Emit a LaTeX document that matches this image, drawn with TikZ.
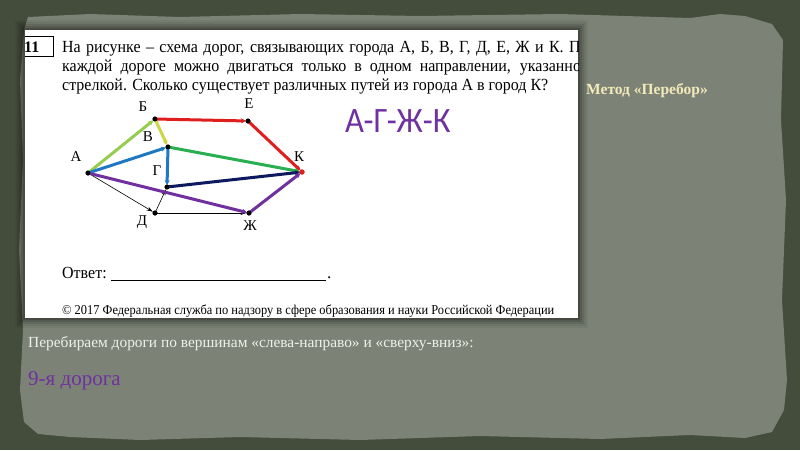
\documentclass[tikz,border=0pt]{standalone}
\usepackage{fontspec}
\setmainfont{Liberation Serif}
\newfontfamily\calib{Carlito}
\usetikzlibrary{arrows.meta}
\definecolor{outerbg}{RGB}{68,76,60}
\definecolor{paper}{RGB}{124,131,118}
\definecolor{lgreen}{RGB}{150,205,80}
\definecolor{ygreen}{RGB}{205,215,70}
\definecolor{rred}{RGB}{225,30,30}
\definecolor{bblue}{RGB}{30,120,195}
\definecolor{ggreen}{RGB}{40,175,80}
\definecolor{navy}{RGB}{15,25,95}
\definecolor{ppurple}{RGB}{112,48,160}
\definecolor{titley}{RGB}{242,234,185}
\definecolor{lighttext}{RGB}{240,240,235}
\tikzset{
  city/.style={circle,fill=black,inner sep=0pt,minimum size=5pt},
  clabel/.style={font=\fontsize{15}{15}\selectfont},
  road/.style={line width=3pt,line cap=round,-{Stealth[length=5pt,width=5pt]},shorten >=2pt},
  thinroad/.style={line width=0.6pt,-{Stealth[length=6pt,width=4pt]}},
  qline/.style={anchor=base west,inner sep=0pt,font=\fontsize{17}{20}\selectfont},
}
\begin{document}
\begin{tikzpicture}[x=1pt,y=-1pt]
\useasboundingbox (0,0) rectangle (800,450);
\fill[outerbg] (0,0) rectangle (800,450);
% torn paper
\fill[paper] (28,17) -- (90,14) -- (180,17) -- (300,14) -- (420,16) -- (560,14) -- (690,18) -- (720,14) -- (745,16) -- (772,24) -- (783,40) -- (781,120) -- (786,200) -- (782,300) -- (787,380) -- (784,410) -- (772,432) -- (745,438) -- (690,435) -- (600,439) -- (480,436) -- (360,440) -- (240,437) -- (140,440) -- (70,437) -- (38,434) -- (24,422) -- (20,390) -- (23,330) -- (19,250) -- (23,160) -- (20,80) -- (24,30) -- cycle;
% shadow of white panel
\foreach \d/\o in {10/0.05,8/0.07,6/0.09,4/0.12,2/0.18}{
  \fill[black,opacity=\o] (25-\d,30-\d) rectangle (578+\d,318+\d);
}
\fill[white] (25,30) rectangle (578,318);
\begin{scope}
\clip (25,30) rectangle (578,318);
\draw[line width=1pt] (14,36) rectangle (53,56);
\node[anchor=base west,inner sep=0pt,font=\fontsize{16}{18}\selectfont\bfseries] (num) at (24,52) {11};
\node[qline] (q1) at (62,52) {\scalebox{0.94}[1]{\makebox[560pt][s]{На рисунке – схема дорог, связывающих города А, Б, В, Г, Д, Е, Ж и К. По}}};
\node[qline] (q2) at (62,71) {\scalebox{0.94}[1]{\makebox[561pt][s]{каждой дороге можно двигаться только в одном направлении, указанной}}};
\node[qline] (q3) at (62,90) {\scalebox{0.94}[1]{стрелкой. Сколько существует различных путей из города А в город К?}};
\end{scope}
% graph
\node[city] (A) at (88,173) {};
\node[city] (B) at (155,119) {};
\node[city] (E) at (248,121) {};
\node[city] (V) at (168,147) {};
\node[city,fill=rred] (K) at (302,172) {};
\node[city] (G) at (167,187) {};
\node[city] (D) at (155,213) {};
\node[city] (Zh) at (249,213) {};
\node[clabel] (lA) at (76,157) {А};
\node[clabel] (lB) at (143,107) {Б};
\node[clabel] (lE) at (249,104) {Е};
\node[clabel] (lV) at (148,137) {В};
\node[clabel] (lK) at (299,157) {К};
\node[clabel] (lG) at (157,171) {Г};
\node[clabel] (lD) at (142,222) {Д};
\node[clabel] (lZh) at (250,226) {Ж};
\draw[thinroad] (A.center) -- (D);
\draw[thinroad] (D.center) -- (G);
\draw[thinroad] (D.center) -- (Zh);
\draw[road,lgreen] (A.center) -- (B.center);
\draw[road,ygreen] (B.center) -- (V.center);
\draw[road,rred] (B.center) -- (E.center);
\draw[road,rred] (E.center) -- (K.center);
\draw[road,bblue] (A.center) -- (V.center);
\draw[road,ggreen] (V.center) -- (K.center);
\draw[road,bblue] (V.center) -- (G.center);
\draw[road,navy] (G.center) -- (K.center);
\draw[road,ppurple] (A.center) -- (Zh.center);
\draw[road,ppurple] (Zh.center) -- (K.center);
\foreach \n in {A,B,E,V,G,D,Zh}{\fill[black] (\n) circle (2.4pt);}
\fill[rred] (K) circle (2.6pt);
% answer line
\node[anchor=base west,inner sep=0pt,font=\fontsize{17}{20}\selectfont] (ans) at (62,278) {\scalebox{0.94}[1]{Ответ:}};
\coordinate (u1) at (111,280);
\coordinate (u2) at (326,280);
\draw[line width=0.9pt] (u1) -- (u2);
\node[anchor=base west,inner sep=0pt,font=\fontsize{17}{20}\selectfont] (dot) at (327,278) {.};
\node[anchor=base west,inner sep=0pt,font=\fontsize{13.5}{15}\selectfont] (copy) at (62,314) {\scalebox{0.92}[1]{© 2017 Федеральная служба по надзору в сфере образования и науки Российской Федерации}};
% right side texts
\node[anchor=base west,inner sep=0pt,font=\calib\fontsize{34}{34}\selectfont,text=ppurple] (path) at (345,132) {\scalebox{0.96}[1.05]{А-Г-Ж-К}};
\node[anchor=base west,inner sep=0pt,font=\fontsize{15.5}{17}\selectfont\bfseries,text=titley] (title) at (586,94) {Метод «Перебор»};
\node[anchor=base west,inner sep=0pt,font=\fontsize{15.4}{17}\selectfont,text=lighttext] (sub) at (28,347) {Перебираем дороги по вершинам «слева-направо» и «сверху-вниз»:};
\node[anchor=base west,inner sep=0pt,font=\fontsize{21}{23}\selectfont,text=ppurple] (nine) at (28,385) {9-я дорога};
\end{tikzpicture}
\end{document}
